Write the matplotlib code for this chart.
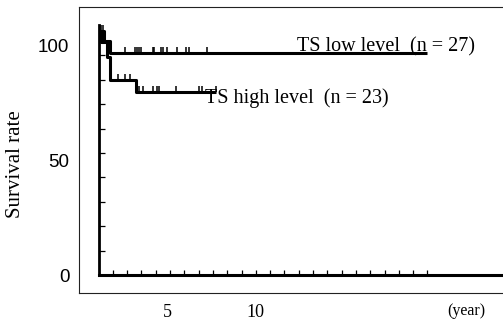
import numpy as np
import matplotlib
matplotlib.use("Agg")
import matplotlib.pyplot as plt

# ---------------- data ----------------
low_times = [0, 0.40, 0.80, 23.0]
low_surv = [100, 96.0, 91.0, 91.0]
low_censor = [0.17, 0.30, 1.86, 2.58, 2.72, 2.86, 3.0, 3.8, 3.9, 4.38, 4.52,
              4.78, 5.47, 6.12, 6.35, 7.6]

high_times = [0, 0.15, 0.60, 0.80, 2.65, 8.25]
high_surv = [100, 95.6, 89.3, 79.9, 75.0, 75.0]
high_censor = [1.38, 1.86, 2.17, 2.85, 3.1, 3.83, 4.1, 4.25, 5.45, 7.05,
               7.22, 8.25]

low_label = "TS low level  (n = 27)"
high_label = "TS high level  (n = 23)"
x_tick_vals = [5, 10]
x_tick_labels = ["5", "10"]
y_tick_vals = [0, 50, 100]
y_tick_labels = ["0", "50", "100"]
x_minor = list(range(1, 24))
y_minor = list(range(10, 100, 10))

SERIF = "Liberation Serif"
SANS = "Liberation Sans"

W, H = 503, 327
fig = plt.figure(figsize=(W / 100, H / 100), dpi=100)


def fx(px):
    return px / W


def fy(py):
    return 1 - py / H


# ---------------- outer frame (label scale) ----------------
oL, oR, oT, oB = 79, 503, 7.3, 292.7
ax_out = fig.add_axes([fx(oL), fy(oB), fx(oR) - fx(oL), fy(oT) - fy(oB)])
ax_out.set_facecolor("none")
ax_out.set_xlim(0, (oR - oL) / 17.6)
ax_out.set_ylim((275 - oB) / 2.29, (275 - oT) / 2.29)
for s in ["left", "top", "bottom"]:
    ax_out.spines[s].set_linewidth(0.8)
    ax_out.spines[s].set_color("#222222")
ax_out.spines["right"].set_visible(False)
ax_out.set_xticks(x_tick_vals)
ax_out.set_xticklabels(x_tick_labels, fontfamily=SERIF, fontsize=13)
ax_out.set_yticks(y_tick_vals)
ax_out.set_yticklabels(y_tick_labels, fontfamily=SANS, fontsize=13.5)
ax_out.tick_params(axis="x", length=0, pad=8)
ax_out.tick_params(axis="y", length=0, pad=7)
ax_out.set_xlabel("(year)", fontfamily=SERIF, fontsize=11.5)
ax_out.xaxis.set_label_coords((466 - oL) / (oR - oL), (oB - 311) / (oB - oT))
ax_out.xaxis.label.set_va("center")

# ---------------- inner KM axes ----------------
PX_PER_UNIT = 2.44
iL, iR, iB = 98.5, 503, 275
YTOP = 102.5
iT = iB - YTOP * PX_PER_UNIT
ax = fig.add_axes([fx(iL), fy(iB), fx(iR) - fx(iL), fy(iT) - fy(iB)])
ax.set_facecolor("none")
ax.set_xlim(0, (iR - iL) / 14.3)
ax.set_ylim(0, YTOP)
ax.spines["right"].set_visible(False)
ax.spines["top"].set_visible(False)
ax.spines["left"].set_linewidth(2.0)
ax.spines["bottom"].set_linewidth(2.2)
ax.set_xticks(x_minor)
ax.set_yticks(y_minor)
ax.set_xticklabels([])
ax.set_yticklabels([])
ax.tick_params(axis="x", direction="in", length=3.5, width=0.9)
ax.tick_params(axis="y", direction="in", length=4.5, width=0.9)


def surv_at(t, times, surv):
    idx = np.searchsorted(np.asarray(times), np.asarray(t), side="right") - 1
    return np.asarray(surv)[idx]


for times, surv, cens in [(low_times, low_surv, low_censor),
                          (high_times, high_surv, high_censor)]:
    ax.step(times, surv, where="post", color="black", lw=2.2,
            solid_capstyle="butt", clip_on=False)
    ax.plot(cens, surv_at(cens, times, surv), linestyle="none", marker=2,
            markersize=4.5, markeredgewidth=1.1, color="black", clip_on=False)

ax.text(13.9, 91.8, low_label, fontfamily=SERIF, fontsize=14.5,
        ha="left", va="baseline")
ax.text(7.45, 70.3, high_label, fontfamily=SERIF, fontsize=14.5,
        ha="left", va="baseline")

fig.text(fx(16), fy(164), "Survival rate", rotation=90, fontfamily=SERIF,
         fontsize=15, ha="center", va="center")

fig.savefig("out.png", dpi=100)
